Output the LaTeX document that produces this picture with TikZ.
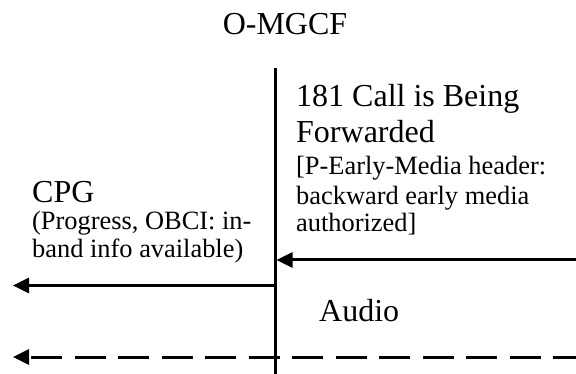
\documentclass[tikz,border=0pt]{standalone}
\usepackage{fontspec}
\setmainfont{Liberation Serif}
\usetikzlibrary{arrows.meta}
\tikzset{
  big/.style={font=\fontsize{32}{36}\selectfont, inner sep=0pt, anchor=base west},
  small/.style={font=\fontsize{26.4}{28}\selectfont, inner sep=0pt, anchor=base west},
  life/.style={line width=3pt},
  msg/.style={line width=3pt, -{Triangle[length=16pt,width=15pt]}},
  media/.style={msg, dash pattern=on 31pt off 12.5pt, dash phase=8pt},
}
\begin{document}
\begin{tikzpicture}[x=1pt,y=-1pt]
\useasboundingbox (0,0) rectangle (576,374);
% title
\node[font=\fontsize{32}{36}\selectfont, inner sep=0pt, anchor=base] (title) at (285,35) {O-MGCF};
% lifeline
\coordinate (ltop) at (275,68);
\coordinate (lbot) at (275,374);
\draw[life] (ltop) -- (lbot);
% message 181
\node[big] (m1a) at (296,107) {181 Call is Being};
\node[big] (m1b) at (296,143) {Forwarded};
\node[small] (m1c) at (296,175) {[P-Early-Media header:};
\node[small] (m1d) at (296,205) {backward early media};
\node[small] (m1e) at (296,232) {authorized]};
\coordinate (a1s) at (576,260);
\coordinate (a1e) at (276.5,260);
\draw[msg] (a1s) -- (a1e);
% CPG
\node[big] (c1a) at (32,203) {CPG};
\node[small] (c1b) at (32,230) {(Progress, OBCI: in-};
\node[small] (c1c) at (32,258) {band info available)};
\coordinate (a2s) at (275,285.5);
\coordinate (a2e) at (13,285.5);
\draw[msg] (a2s) -- (a2e);
% Audio
\node[big] (aud) at (319,322) {Audio};
\coordinate (a3s) at (576,357);
\coordinate (a3e) at (13,357);
\draw[media] (a3s) -- (a3e);
\end{tikzpicture}
\end{document}
